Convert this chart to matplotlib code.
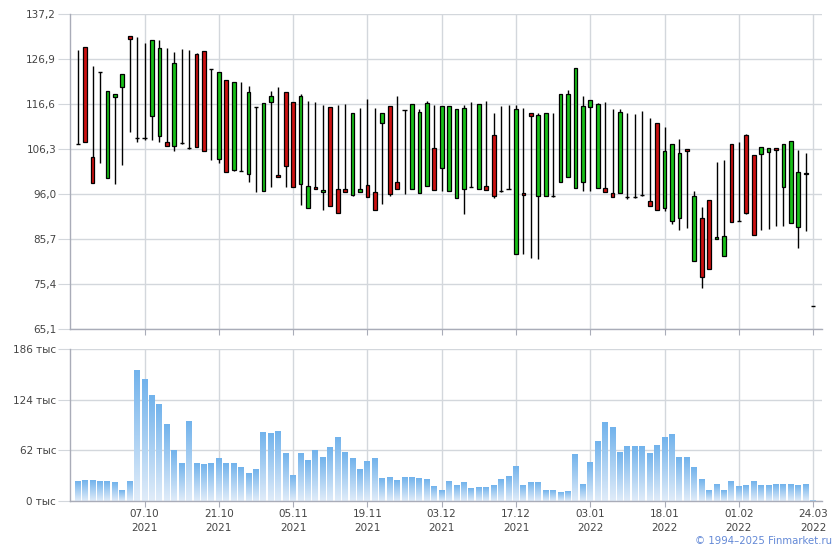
import numpy as np
import matplotlib
matplotlib.use('Agg')
import matplotlib.pyplot as plt
from matplotlib.colors import LinearSegmentedColormap

# daily candles, 24.09.2021 - 24.03.2022 (trading days only)
opens = [107.4, 129.7, 104.5, 124.0, 99.6, 118.2, 120.4, 132.2, 108.8, 108.8,
         113.8, 109.2, 107.9, 107.1, 107.7, 106.5, 128.1, 128.7, 124.6, 103.9,
         122.1, 101.5, 101.3, 100.6, 115.9, 96.6, 117.1, 100.4, 119.4, 117.1,
         98.3, 92.8, 97.6, 96.5, 115.9, 97.1, 97.1, 95.8, 96.5, 98.1,
         96.5, 112.3, 116.1, 98.8, 115.2, 97.1, 96.2, 97.8, 106.5, 102.0,
         96.7, 95.1, 97.1, 97.6, 97.1, 97.8, 109.5, 96.6, 97.1, 82.3,
         96.2, 114.5, 95.5, 95.5, 95.5, 98.8, 99.9, 97.4, 98.8, 115.9,
         97.4, 97.4, 96.2, 96.2, 95.2, 95.3, 95.7, 94.4, 112.3, 92.8,
         89.8, 90.5, 106.3, 80.7, 90.5, 94.6, 85.7, 81.8, 107.4, 89.8,
         109.5, 104.9, 105.2, 105.6, 106.5, 97.6, 89.4, 88.5, 100.9, 70.4]
highs = [128.9, 129.7, 125.4, 124.0, 119.6, 118.8, 123.5, 132.2, 131.9, 130.6,
         131.3, 131.2, 129.4, 128.6, 129.2, 129.0, 128.3, 128.7, 124.6, 123.9,
         122.1, 121.6, 121.6, 120.7, 115.9, 116.8, 119.6, 120.5, 119.4, 117.1,
         118.9, 117.3, 117.1, 116.4, 115.9, 116.4, 116.6, 114.5, 115.7, 117.7,
         115.7, 114.5, 116.1, 118.4, 115.2, 116.6, 115.5, 117.3, 116.4, 116.1,
         116.1, 115.5, 116.4, 117.1, 116.6, 117.3, 114.5, 116.1, 116.4, 116.4,
         115.7, 114.5, 114.5, 114.5, 114.5, 118.9, 119.9, 124.8, 118.4, 117.5,
         116.8, 117.1, 115.5, 115.5, 114.5, 114.3, 115.0, 113.4, 112.3, 111.3,
         107.4, 108.6, 106.3, 96.7, 93.0, 94.6, 103.3, 103.8, 107.4, 107.9,
         109.7, 104.9, 106.8, 106.5, 106.5, 107.4, 108.1, 106.1, 105.4, 70.4]
lows = [107.4, 108.0, 98.5, 103.2, 99.6, 98.2, 102.6, 110.1, 108.0, 108.3,
        108.4, 107.8, 107.1, 105.8, 107.5, 106.4, 106.8, 105.8, 103.7, 103.0,
        101.0, 101.3, 101.3, 98.7, 96.4, 96.6, 97.5, 99.8, 97.5, 97.6,
        93.4, 92.8, 97.1, 92.3, 93.3, 91.7, 96.5, 95.5, 96.5, 95.3,
        92.3, 93.7, 95.5, 97.1, 96.0, 97.1, 96.2, 97.8, 96.9, 96.7,
        96.7, 95.1, 91.4, 97.6, 97.1, 96.9, 95.1, 96.5, 97.1, 82.3,
        82.3, 81.4, 81.1, 95.5, 95.3, 98.8, 99.9, 97.4, 96.7, 96.7,
        97.4, 96.5, 95.3, 96.2, 94.9, 95.1, 95.5, 93.3, 92.3, 92.1,
        89.1, 87.8, 88.2, 80.7, 74.5, 78.8, 85.7, 81.8, 89.6, 89.8,
        91.4, 86.6, 87.8, 88.0, 88.7, 88.7, 89.4, 83.6, 87.5, 70.4]
closes = [107.4, 108.0, 98.5, 124.0, 119.6, 118.8, 123.5, 131.4, 108.8, 108.8,
          131.3, 129.4, 107.1, 126.0, 107.7, 106.5, 106.8, 105.8, 124.6, 123.9,
          101.0, 121.6, 101.3, 119.4, 115.9, 116.8, 118.4, 99.9, 102.4, 97.6,
          118.4, 97.8, 97.1, 97.0, 93.3, 91.7, 96.5, 114.5, 97.1, 95.3,
          92.3, 114.5, 96.0, 97.1, 115.2, 116.6, 114.8, 116.8, 96.9, 116.1,
          116.1, 115.5, 115.7, 97.6, 116.6, 96.9, 95.5, 96.6, 97.1, 115.5,
          95.8, 113.9, 114.1, 114.5, 95.5, 118.9, 118.9, 124.8, 116.1, 117.5,
          116.6, 96.5, 95.3, 114.8, 95.2, 95.3, 95.7, 93.3, 92.3, 105.8,
          107.4, 105.4, 105.8, 95.5, 77.0, 78.8, 86.2, 86.4, 89.6, 89.8,
          91.7, 86.6, 106.8, 106.5, 106.1, 107.4, 108.1, 101.0, 100.6, 70.4]
# volume, thousands
volumes = [24.4, 25.6, 25.6, 24.4, 24.4, 23.2, 13.4, 24.4, 159.3, 148.2,
           128.6, 117.6, 93.1, 61.2, 46.5, 96.7, 45.3, 44.1, 46.5, 52.6,
           46.5, 45.3, 41.6, 34.2, 39.1, 83.3, 82.1, 84.6, 57.6, 31.8,
           57.6, 50.1, 61.2, 53.8, 64.9, 78.3, 58.8, 51.4, 39.1, 48.9,
           52.6, 28.1, 29.3, 25.6, 29.3, 29.3, 28.1, 26.9, 18.3, 13.4,
           24.4, 19.5, 23.2, 15.8, 17.0, 17.0, 19.5, 26.9, 30.5, 42.8,
           19.5, 23.2, 23.2, 13.4, 13.4, 11.0, 12.2, 56.4, 20.7, 47.7,
           73.4, 95.5, 89.4, 58.8, 67.3, 67.3, 67.3, 57.6, 68.5, 78.3,
           80.8, 53.8, 53.8, 41.6, 26.9, 13.4, 20.7, 13.4, 24.4, 18.3,
           19.5, 24.4, 19.5, 19.5, 20.7, 20.7, 20.7, 19.5, 20.7, 1.0]

tick_pos = [9, 19, 29, 39, 49, 59, 69, 79, 89, 99]
tick_labels = ['07.10\n2021', '21.10\n2021', '05.11\n2021', '19.11\n2021', '03.12\n2021',
               '17.12\n2021', '03.01\n2022', '18.01\n2022', '01.02\n2022', '24.03\n2022']
price_ticks = [65.1, 75.4, 85.7, 96.0, 106.3, 116.6, 126.9, 137.2]
vol_ticks = [0, 62, 124, 186]

grid_c = '#d3d7dc'
axis_c = '#a9acb8'
text_c = '#444444'
up_c = '#18c018'
down_c = '#cc1111'

fig = plt.figure(figsize=(8.4, 5.5), dpi=100)
ax1 = fig.add_axes([70/840, 1-329/550, 752/840, 315/550])
ax2 = fig.add_axes([70/840, 1-501/550, 752/840, 152/550])

x = np.arange(len(opens))
o = np.array(opens); h = np.array(highs); l = np.array(lows); c = np.array(closes)

#candles
ax1.vlines(x, l, h, color='black', lw=1.0, zorder=2)
body = np.abs(c - o) > 0.05
cols = np.where(c >= o, up_c, down_c)
ax1.bar(x[body], np.abs(c - o)[body], bottom=np.minimum(o, c)[body], width=0.5,
        color=cols[body], edgecolor='black', linewidth=0.9, zorder=3)
ax1.hlines(o[~body], x[~body] - 0.28, x[~body] + 0.28, color='black', lw=1.0, zorder=3)

#volume bars with vertical gradient
cmap = LinearSegmentedColormap.from_list('vol', ['#e0ecf9', '#72b3ec'])
grad = np.linspace(1, 0, 64).reshape(-1, 1)
w = 0.8
for xi, v in zip(x, volumes):
    ax2.imshow(grad, cmap=cmap, extent=[xi - w/2, xi + w/2, 0, v], aspect='auto',
               interpolation='bilinear', zorder=2, vmin=0, vmax=1)

for ax in (ax1, ax2):
    ax.set_xlim(-1.03, 100.2)
    ax.set_xticks(tick_pos)
    ax.grid(color=grid_c, lw=1)
    ax.set_axisbelow(True)
    for s in ('top', 'right'):
        ax.spines[s].set_visible(False)
    for s in ('left', 'bottom'):
        ax.spines[s].set_color(axis_c)
        ax.spines[s].set_linewidth(1)
    ax.tick_params(axis='y', length=9, color=grid_c, pad=1, labelsize=7.5, labelcolor=text_c)
    ax.tick_params(axis='x', length=4, color=axis_c, labelsize=7.5, labelcolor=text_c, pad=2)

ax1.set_ylim(65.1, 137.2)
ax1.set_yticks(price_ticks)
ax1.set_yticklabels([('%.1f' % t).replace('.', ',') for t in price_ticks])
ax1.set_xticklabels([])

ax2.set_ylim(0, 186)
ax2.set_yticks(vol_ticks)
ax2.set_yticklabels(['%d тыс' % t for t in vol_ticks])
ax2.set_xticklabels(tick_labels, linespacing=1.4)

fig.text(0.991, 0.008, '© 1994–2025 Finmarket.ru', ha='right', va='bottom',
         color='#6288d6', fontsize=7.3)

fig.savefig('out.png', dpi=100)
